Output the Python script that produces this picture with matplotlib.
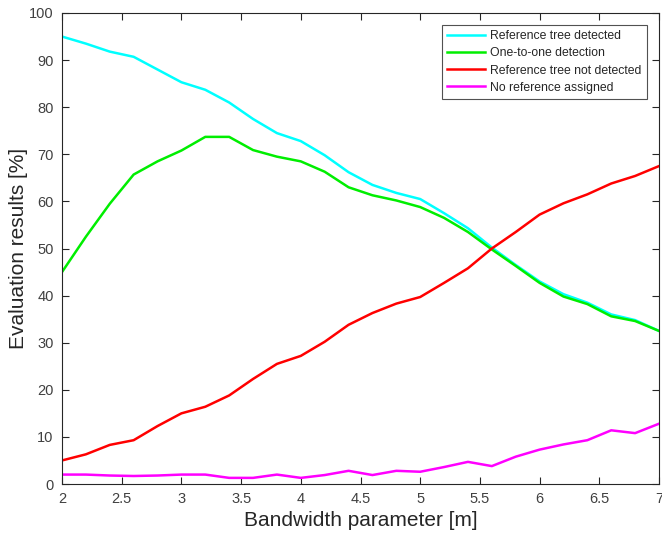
import matplotlib
matplotlib.use("Agg")
import matplotlib.pyplot as plt
import numpy as np

plt.rcParams['font.family'] = ['Liberation Sans', 'DejaVu Sans']

bandwidth = [2.0, 2.2, 2.4, 2.6, 2.8, 3.0, 3.2, 3.4, 3.6, 3.8, 4.0, 4.2, 4.4,
             4.6, 4.8, 5.0, 5.2, 5.4, 5.6, 5.8, 6.0, 6.2, 6.4, 6.6, 6.8, 7.0]
ref_detected = [95, 93.5, 91.8, 90.7, 88, 85.3, 83.7, 81, 77.5, 74.5, 72.8, 69.8, 66.2,
                63.5, 61.8, 60.5, 57.5, 54.3, 50.2, 46.5, 43, 40.3, 38.5, 36, 34.8, 32.5]
one_to_one = [45, 52.5, 59.5, 65.7, 68.5, 70.8, 73.7, 73.7, 70.9, 69.5, 68.5, 66.3, 63,
              61.3, 60.2, 58.8, 56.5, 53.5, 49.8, 46.3, 42.7, 39.8, 38.2, 35.6, 34.6, 32.5]
ref_not_detected = [5, 6.3, 8.3, 9.3, 12.3, 15, 16.4, 18.8, 22.3, 25.5, 27.2, 30.2, 33.8,
                    36.3, 38.3, 39.7, 42.7, 45.8, 50, 53.5, 57.2, 59.6, 61.5, 63.8, 65.4, 67.5]
no_ref = [2, 2, 1.8, 1.7, 1.8, 2, 2, 1.3, 1.3, 2, 1.3, 1.9, 2.8,
          1.9, 2.8, 2.6, 3.6, 4.7, 3.8, 5.8, 7.3, 8.4, 9.3, 11.4, 10.8, 12.8]

labels = ["Reference tree detected", "One-to-one detection",
          "Reference tree not detected", "No reference assigned"]
colors = ["#00ffff", "#00ee00", "#ff0000", "#ff00ff"]
series = [ref_detected, one_to_one, ref_not_detected, no_ref]

fig = plt.figure(figsize=(6.62, 5.36), dpi=100)
ax = fig.add_axes([62/662, 1-484/536, (659-62)/662, (484-13)/536])

for s, c, l in zip(series, colors, labels):
    ax.plot(bandwidth, s, color=c, lw=1.8, label=l)

ax.set_xlim(2, 7)
ax.set_ylim(0, 100)
ax.set_xticks([2, 2.5, 3, 3.5, 4, 4.5, 5, 5.5, 6, 6.5, 7])
ax.set_xticklabels(["2", "2.5", "3", "3.5", "4", "4.5", "5", "5.5", "6", "6.5", "7"])
ax.set_yticks(np.arange(0, 101, 10))
ax.tick_params(direction='in', top=True, right=True, length=5, width=0.8,
               labelsize=10.5, labelcolor='#404040', color='#262626', pad=6)
for sp in ax.spines.values():
    sp.set_color('#262626')
    sp.set_linewidth(0.8)

ax.set_xlabel("Bandwidth parameter [m]", fontsize=15, color='#262626', labelpad=3)
ax.set_ylabel("Evaluation results [%]", fontsize=15, color='#262626', labelpad=1)

leg = ax.legend(loc='upper right', bbox_to_anchor=(0.98, 0.975), borderaxespad=0,
                fontsize=8.8, fancybox=False, frameon=True, edgecolor='#262626',
                handlelength=3.1, borderpad=0.45, labelspacing=0.42, handletextpad=0.4)
leg.get_frame().set_linewidth(0.8)
for t in leg.get_texts():
    t.set_color('#262626')

fig.savefig("out.png", dpi=100)
